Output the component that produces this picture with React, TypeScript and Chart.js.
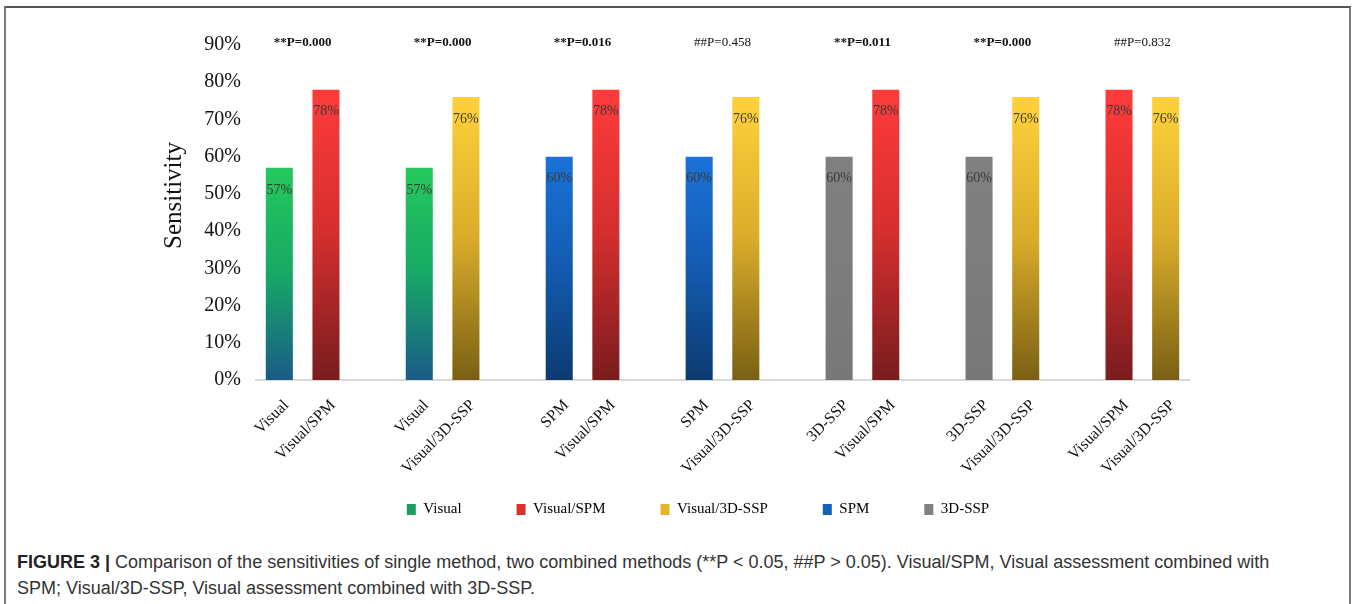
import React, { useEffect, useRef } from 'react';
import { Chart, registerables } from 'chart.js';

Chart.register(...registerables);

// ---- data ----
const methods = ['Visual', 'Visual/SPM', 'Visual/3D-SSP', 'SPM', '3D-SSP'];
const sensitivity = [57, 78, 76, 60, 60];
const pairLeft = ['Visual', 'Visual', 'SPM', 'SPM', '3D-SSP', '3D-SSP', 'Visual/SPM'];
const pairRight = ['Visual/SPM', 'Visual/3D-SSP', 'Visual/SPM', 'Visual/3D-SSP', 'Visual/SPM', 'Visual/3D-SSP', 'Visual/3D-SSP'];
const pLabels = ['**P=0.000', '**P=0.000', '**P=0.016', '##P=0.458', '**P=0.011', '**P=0.000', '##P=0.832'];
const yMax = 90;
const yStep = 10;

// ---- styles ----
const gradientStops: string[][] = [
  ['#25c95c', '#17a866', '#1a5b88'],
  ['#ff3b3b', '#d42e2e', '#7a1c1e'],
  ['#ffd23c', '#d9ac2a', '#7a6014'],
  ['#1b72d8', '#135bb0', '#0c3a70'],
  ['#808080', '#7d7d7d', '#777777'],
];
const legendColors = ['#1a9e64', '#e02d2d', '#e6b52a', '#1560b8', '#808080'];
const SERIF = "'Liberation Serif', 'Times New Roman', serif";

const categories: string[] = [];
const slotPairs: string[] = [];
pairLeft.forEach((l, g) => {
  categories.push(l, pairRight[g]);
  slotPairs.push(l, pairRight[g]);
  if (g < pairLeft.length - 1) {
    categories.push('');
    slotPairs.push('');
  }
});

const labelPlugin = {
  id: 'barLabels',
  afterDatasetsDraw(chart: any) {
    const ctx = chart.ctx;
    ctx.save();
    ctx.font = `14px ${SERIF}`;
    ctx.fillStyle = '#3a3a3a';
    ctx.textAlign = 'center';
    ctx.textBaseline = 'middle';
    chart.data.datasets.forEach((ds: any, di: number) => {
      const meta = chart.getDatasetMeta(di);
      meta.data.forEach((el: any, i: number) => {
        const v = ds.data[i];
        if (v === null || v === undefined) return;
        ctx.fillText(`${v}%`, el.x, el.y + 22);
      });
    });
    // P annotations
    const xs = chart.scales.x;
    const ys = chart.scales.y;
    pLabels.forEach((t, g) => {
      const x = (xs.getPixelForValue(g * 3) + xs.getPixelForValue(g * 3 + 1)) / 2;
      const y = ys.getPixelForValue(yMax) - 2;
      ctx.font = t.startsWith('**') ? `bold 13px ${SERIF}` : `13px ${SERIF}`;
      ctx.fillStyle = '#111';
      ctx.fillText(t, x, y);
    });
    // y-axis title
    const ca = chart.chartArea;
    ctx.save();
    ctx.translate(ca.left - 82, (ca.top + ca.bottom) / 2 - 17);
    ctx.rotate(-Math.PI / 2);
    ctx.font = `25px ${SERIF}`;
    ctx.fillStyle = '#111';
    ctx.fillText('Sensitivity', 0, 0);
    ctx.restore();
    ctx.restore();
  },
};

export default function App() {
  const ref = useRef<HTMLCanvasElement>(null);
  useEffect(() => {
    if (!ref.current) return;
    const datasets = methods.map((m, mi) => ({
      label: m,
      data: slotPairs.map((s) => (s === m ? sensitivity[mi] : null)),
      grouped: false,
      categoryPercentage: 1,
      barPercentage: 0.58,
      backgroundColor: (c: any) => {
        const chart = c.chart;
        const ys = chart.scales?.y;
        const v = c.raw;
        if (!ys || v === null || v === undefined || typeof v !== 'number') return legendColors[mi];
        const top = ys.getPixelForValue(v);
        const bottom = ys.getPixelForValue(0);
        const g = chart.ctx.createLinearGradient(0, top, 0, bottom);
        const st = gradientStops[mi];
        g.addColorStop(0, st[0]);
        g.addColorStop(0.5, st[1]);
        g.addColorStop(1, st[2]);
        return g;
      },
      borderWidth: 0,
    }));
    const chart = new Chart(ref.current, {
      type: 'bar',
      data: { labels: categories, datasets },
      plugins: [labelPlugin],
      options: {
        animation: false,
        responsive: false,
        maintainAspectRatio: false,
        layout: { padding: { left: 202, right: 159, top: 37, bottom: 0 } },
        plugins: {
          tooltip: { enabled: false },
          legend: {
            position: 'bottom',
            labels: {
              font: { family: SERIF, size: 15 },
              color: '#111',
              boxWidth: 9,
              boxHeight: 11,
              padding: 55,
              generateLabels: () =>
                methods.map((m, i) => ({
                  text: m,
                  fillStyle: legendColors[i],
                  strokeStyle: legendColors[i],
                  lineWidth: 0,
                  hidden: false,
                  datasetIndex: i,
                })),
            },
          },
        },
        scales: {
          x: {
            grid: { display: false, drawTicks: false },
            border: { display: true, color: '#d9d9d9', width: 2 },
            ticks: {
              autoSkip: false,
              maxRotation: 45,
              minRotation: 45,
              padding: 16,
              labelOffset: 7,
              color: '#111',
              font: { family: SERIF, size: 16 },
            },
            afterFit: (s: any) => {
              s.height = 67;
              s._computeLabelArea = () => undefined;
            },
          },
          y: {
            min: 0,
            max: yMax,
            grid: { display: false, drawTicks: false },
            border: { display: false },
            ticks: {
              stepSize: yStep,
              padding: 15,
              color: '#111',
              font: { family: SERIF, size: 20 },
              callback: (v: any) => `${v}%`,
            },
            afterFit: (s: any) => {
              s.width = 49;
              s._computeLabelArea = () => undefined;
            },
          },
        },
      } as any,
    });
    return () => chart.destroy();
  }, []);

  return (
    <div>
      <div
        style={{
          position: 'absolute',
          left: 4,
          top: 6,
          width: 1343,
          height: 640,
          borderLeft: '2px solid #7a7a7a',
          borderRight: '2px solid #7a7a7a',
          borderTop: '2px solid #555',
          background: '#fff',
        }}
      />
      <canvas
        ref={ref}
        width={1343}
        height={519}
        style={{ position: 'absolute', left: 5, top: 8, width: 1343, height: 519 }}
      />
      <div
        style={{
          position: 'absolute',
          left: 17,
          top: 549,
          width: 1320,
          fontFamily: "'Liberation Sans', Arial, sans-serif",
          fontSize: 18,
          lineHeight: '26px',
          color: '#333',
        }}
      >
        <b style={{ color: '#222' }}>FIGURE 3 |</b> Comparison of the sensitivities of single method, two combined
        methods (**P &lt; 0.05, ##P &gt; 0.05). Visual/SPM, Visual assessment combined with
        <br />
        SPM; Visual/3D-SSP, Visual assessment combined with 3D-SSP.
      </div>
    </div>
  );
}
